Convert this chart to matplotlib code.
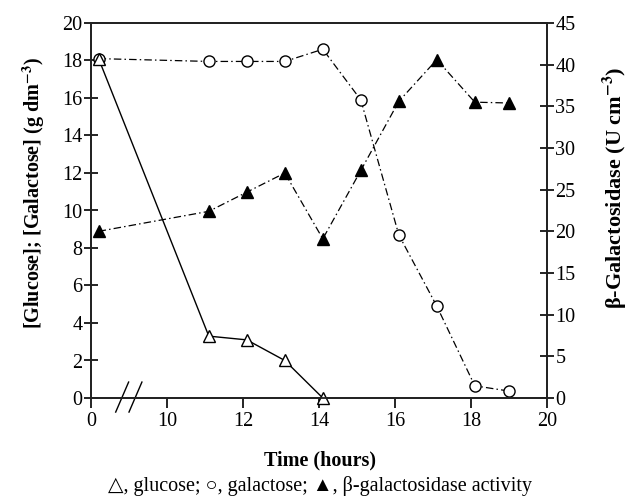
import matplotlib
matplotlib.use("Agg")
import matplotlib.pyplot as plt
import numpy as np

plt.rcParams['font.family'] = ['Liberation Serif', 'DejaVu Sans']
plt.rcParams['mathtext.fontset'] = 'stix'

# data (time in hours)
glu_t = [0.2, 11.1, 12.1, 13.1, 14.1]
glu_v = [18.1, 3.3, 3.1, 2.0, 0.0]
gal_t = [0.2, 11.1, 12.1, 13.1, 14.1, 15.1, 16.1, 17.1, 18.1, 19.0]
gal_v = [18.1, 17.95, 17.95, 17.95, 18.6, 15.9, 8.7, 4.9, 0.65, 0.37]
bg_t = [0.2, 11.1, 12.1, 13.1, 14.1, 15.1, 16.1, 17.1, 18.1, 19.0]
bg_v = [20.0, 22.4, 24.7, 27.0, 19.1, 27.3, 35.6, 40.6, 35.5, 35.4]
x_ticks = [0, 10, 12, 14, 16, 18, 20]
y_left_ticks = list(range(0, 21, 2))
y_right_ticks = list(range(0, 46, 5))

BREAK_SHIFT = 8  # times before the break are shifted right by this amount


def pos(t):
    return [v + BREAK_SHIFT if v < BREAK_SHIFT else v for v in t]


W, H = 633, 498
fig = plt.figure(figsize=(W / 100, H / 100), dpi=100)
ax = fig.add_axes([91 / W, 1 - 398 / H, (547 - 91) / W, (398 - 23) / H])
ax2 = ax.twinx()

ax.plot(pos(glu_t), glu_v, '-', color='black', lw=1.0, marker='^', ms=9,
        mfc='white', mec='black', mew=1.0, zorder=4, clip_on=False)
ax.plot(pos(gal_t), gal_v, color='black', lw=0.9, dashes=[6, 2.5, 1.2, 2.5],
        marker='o', ms=8, mfc='white', mec='black', mew=1.0, zorder=3, clip_on=False)
ax2.plot(pos(bg_t), bg_v, color='black', lw=0.9, dashes=[6, 2.5, 1.2, 2.5],
         marker='^', ms=9, mfc='black', mec='black', zorder=3, clip_on=False)

ax.set_xlim(8, 20)
ax.set_ylim(0, 20)
ax2.set_ylim(0, 45)
ax.set_xticks(pos(x_ticks))
ax.set_xticklabels([str(v) for v in x_ticks])
ax.set_yticks(y_left_ticks)
ax2.set_yticks(y_right_ticks)

for a in (ax, ax2):
    for s in a.spines.values():
        s.set_linewidth(1.3)
        s.set_color('#222222')
ax.tick_params(axis='x', direction='out', length=7, width=1.2, labelsize=14.5, pad=3)
ax.tick_params(axis='y', direction='inout', length=10, width=1.2, labelsize=14.5, pad=1)
ax2.tick_params(axis='y', direction='inout', length=10, width=1.2, labelsize=14.5, pad=1)

fig.text(34 / W, 1 - 193 / H, '[Glucose]; [Galactose] (g dm$^{\\mathbf{-3}}$)',
         rotation=90, ha='center', va='center', fontsize=14.5, fontweight='bold')
fig.text(615 / W, 1 - 188 / H, 'β-Galactosidase (U cm$^{\\mathbf{-3}}$)',
         rotation=90, ha='center', va='center', fontsize=16, fontweight='bold')
fig.text(320 / W, 1 - 460 / H, 'Time (hours)', ha='center', va='center',
         fontsize=14.5, fontweight='bold')

# axis break marks
for xb in (8.82, 9.17):
    ax.plot([xb - 0.17, xb + 0.17], [-0.75, 0.85], color='black', lw=1.0,
            clip_on=False, zorder=5)

fig.text(320 / W, 1 - 486 / H,
         '△, glucose; ○, galactose; ▲, β-galactosidase activity',
         ha='center', va='center', fontsize=14.5)

fig.savefig('out.png', dpi=100)
